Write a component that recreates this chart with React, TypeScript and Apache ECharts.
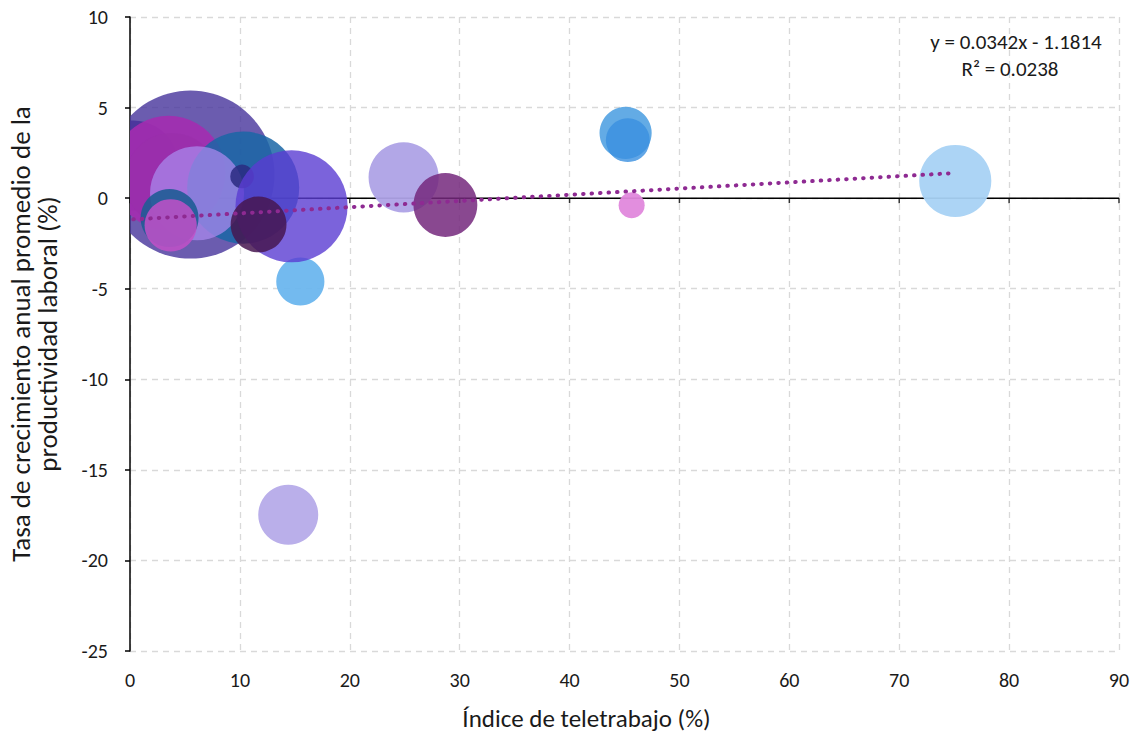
import React, { useEffect, useRef } from "react";
import * as echarts from "echarts";

// Índice de teletrabajo (%)
const TELEWORK = [0.3, 5.5, 3.5, 3.8, 15.5, 10.3, 6.1, 10.2, 14.7, 11.7, 3.6, 3.7, 14.4, 24.9, 28.7, 45.1, 45.3, 45.65, 75.1];
// Tasa de crecimiento anual promedio de la productividad laboral (%)
const PRODUCTIVITY = [1.8, 1.3, 1.4, 1.0, -4.6, 0.58, 0.27, 1.2, -0.45, -1.45, -1.1, -1.5, -17.48, 1.15, -0.38, 3.6, 3.2, -0.39, 0.95];
// Bubble size (area)
const SIZE = [203, 706, 325, 221, 58, 314, 221, 14, 314, 78, 84, 68, 90, 123, 102, 68, 48, 17, 130];
const COLORS = [
  "#3A1F90", "#4A389E", "#A42CB0", "#9A2EAA", "#6CB6EE", "#1A66A6", "#A888EC", "#2A2A80",
  "#5A3CD2", "#461650", "#1F5C95", "#C250C8", "#BAAFEA", "#AEA2E6", "#74287C", "#52A2E2",
  "#3A90E0", "#E088DC", "#A8D2F4",
];
const OPACITY = [0.9, 0.82, 0.9, 0.6, 0.95, 0.85, 0.75, 0.85, 0.8, 0.85, 0.9, 0.85, 1, 0.95, 0.85, 0.9, 0.8, 0.95, 0.95];

const X_TICKS = { min: 0, max: 90, interval: 10 };
const Y_TICKS = { min: -25, max: 10, interval: 5 };

const TREND_SLOPE = 0.0342;
const TREND_INTERCEPT = -1.1814;
const EQUATION = "y = 0.0342x - 1.1814";
const R_SQUARED = "R² = 0.0238";

const FONT = "Carlito, Calibri, Lato, 'Liberation Sans', sans-serif";

export default function App() {
  const ref = useRef<HTMLDivElement>(null);
  useEffect(() => {
    if (!ref.current) return;
    const chart = echarts.init(ref.current, undefined, { renderer: "svg" });
    const bubbleData = TELEWORK.map((x, i) => [x, PRODUCTIVITY[i], SIZE[i]]);
    const xMin = Math.min(...TELEWORK);
    const xMax = Math.max(...TELEWORK);
    const trend = [
      [xMin, TREND_SLOPE * xMin + TREND_INTERCEPT],
      [xMax, TREND_SLOPE * xMax + TREND_INTERCEPT],
    ];
    const zeroTicks: number[][] = [];
    for (let v = X_TICKS.min; v <= X_TICKS.max; v += X_TICKS.interval) zeroTicks.push([v, 0]);
    chart.setOption({
      animation: false,
      textStyle: { fontFamily: FONT },
      grid: { left: 130, right: 21, top: 17, bottom: 89, outerBoundsMode: "none", containLabel: false },
      xAxis: {
        type: "value",
        ...X_TICKS,
        axisLine: { show: false, onZero: false },
        axisTick: { show: false },
        axisLabel: { color: "#1a1a1a", fontSize: 20, fontFamily: FONT, margin: 19 },
        splitLine: { show: true, lineStyle: { color: "#D9D9D9", type: [6, 5], width: 1.3 } },
        name: "Índice de teletrabajo (%)",
        nameLocation: "middle",
        nameGap: 55,
        nameTextStyle: { color: "#1a1a1a", fontSize: 25, fontFamily: FONT, padding: [0, 76, 0, 0] },
      },
      yAxis: {
        type: "value",
        ...Y_TICKS,
        axisLine: { show: true, onZero: false, lineStyle: { color: "#000", width: 1.5 } },
        axisTick: { show: true, length: 5, lineStyle: { color: "#000", width: 1.5 } },
        axisLabel: { color: "#1a1a1a", fontSize: 20, fontFamily: FONT, margin: 22 },
        splitLine: { show: true, lineStyle: { color: "#D9D9D9", type: [6, 5], width: 1.3 } },
        name: "Tasa de crecimiento anual promedio de la\nproductividad laboral (%)",
        nameLocation: "middle",
        nameRotate: 90,
        nameGap: 69,
        nameTextStyle: { color: "#1a1a1a", fontSize: 27, fontFamily: FONT, lineHeight: 27, align: "center" },
      },
      graphic: [
        {
          type: "text",
          z: 70,
          x: 1016,
          y: 42,
          style: { text: EQUATION, fill: "#1a1a1a", font: `21px ${FONT}`, textAlign: "center", textVerticalAlign: "middle" },
        },
        {
          type: "text",
          z: 70,
          x: 1010,
          y: 69,
          style: { text: R_SQUARED, fill: "#1a1a1a", font: `21px ${FONT}`, textAlign: "center", textVerticalAlign: "middle" },
        },
      ],
      series: [
        {
          type: "line",
          data: [[X_TICKS.min, 0], [X_TICKS.max, 0]],
          symbol: "none",
          z: 1,
          silent: true,
          lineStyle: { color: "#000", width: 1.5 },
        },
        {
          type: "scatter",
          data: zeroTicks,
          symbol: "rect",
          symbolSize: [1.5, 5],
          symbolOffset: [0, 2.5],
          z: 1,
          silent: true,
          itemStyle: { color: "#000" },
        },
        {
          type: "custom",
          data: bubbleData,
          encode: { x: 0, y: 1 },
          clip: true,
          z: 2,
          renderItem: (params: any, api: any) => {
            const pt = api.coord([api.value(0), api.value(1)]);
            const r = Math.sqrt(api.value(2)) * Math.sqrt(10);
            const i = params.dataIndex;
            return {
              type: "circle",
              shape: { cx: pt[0], cy: pt[1], r },
              style: { fill: COLORS[i], opacity: OPACITY[i] },
            };
          },
        },
        {
          type: "line",
          data: trend,
          symbol: "none",
          z: 10,
          lineStyle: { color: "#8E2A92", width: 4, type: [0.5, 8], cap: "round" },
        },
      ],
    });
    return () => chart.dispose();
  }, []);
  return <div ref={ref} style={{ position: "absolute", left: 0, top: 0, width: 1140, height: 740 }} />;
}
